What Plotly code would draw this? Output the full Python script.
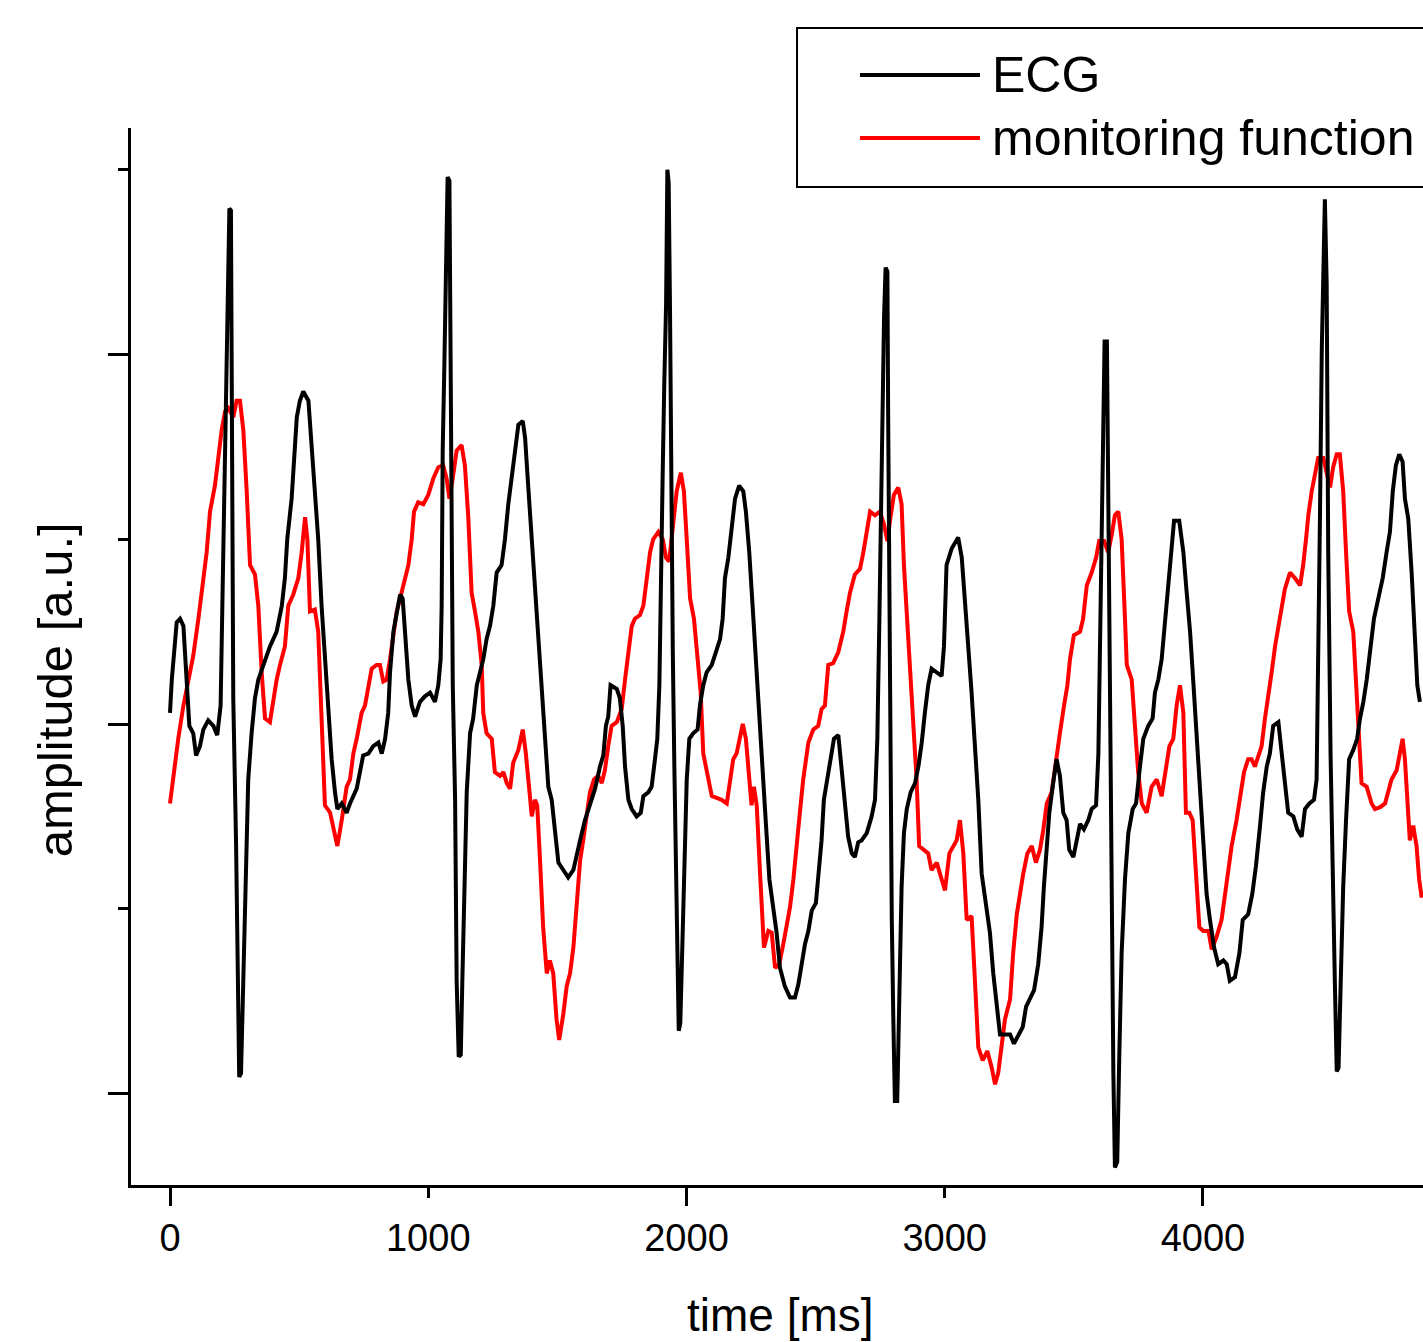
import plotly.graph_objects as go

# ---------------- data ----------------
ecg_t = [0, 7, 26, 39, 52, 65, 75, 90, 101, 116, 129, 148, 168, 183, 196, 206, 217, 223, 230, 236,
         239, 245, 256, 262, 268, 275, 284, 294, 303, 316, 329, 342, 361, 387, 413, 433, 445, 454, 471, 484,
         491, 503, 516, 536, 549, 561, 574, 587, 600, 613, 626, 639, 648, 665, 684, 697, 723, 748, 768, 787,
         807, 820, 833, 845, 852, 865, 878, 891, 901, 910, 923, 936, 949, 968, 987, 1007, 1026, 1039, 1048, 1052,
         1056, 1062, 1069, 1075, 1082, 1084, 1088, 1095, 1104, 1110, 1118, 1126, 1132, 1138, 1149, 1162, 1174, 1188, 1200, 1213,
         1226, 1239, 1252, 1265, 1284, 1297, 1310, 1323, 1336, 1349, 1366, 1375, 1387, 1401, 1413, 1426, 1439, 1452, 1465, 1478,
         1491, 1504, 1523, 1542, 1562, 1575, 1588, 1607, 1626, 1646, 1665, 1678, 1688, 1697, 1706, 1730, 1742, 1753, 1762, 1775,
         1788, 1807, 1823, 1833, 1852, 1865, 1878, 1887, 1895, 1901, 1908, 1914, 1921, 1926, 1931, 1936, 1941, 1947, 1953, 1959,
         1964, 1970, 1976, 1983, 1991, 2001, 2011, 2026, 2043, 2052, 2065, 2078, 2098, 2117, 2130, 2140, 2149, 2162, 2175, 2188,
         2204, 2220, 2230, 2243, 2256, 2269, 2282, 2295, 2308, 2321, 2336, 2349, 2362, 2381, 2401, 2420, 2433, 2446, 2459, 2472,
         2485, 2501, 2510, 2523, 2532, 2545, 2558, 2571, 2588, 2601, 2614, 2626, 2640, 2652, 2665, 2678, 2698, 2717, 2730, 2739,
         2747, 2756, 2765, 2771, 2778, 2781, 2788, 2795, 2801, 2807, 2816, 2824, 2833, 2842, 2853, 2868, 2885, 2898, 2911, 2923,
         2936, 2949, 2969, 2988, 2997, 3007, 3027, 3052, 3066, 3078, 3091, 3104, 3117, 3130, 3143, 3162, 3175, 3188, 3201, 3214,
         3233, 3253, 3268, 3285, 3302, 3315, 3330, 3346, 3362, 3375, 3384, 3395, 3405, 3418, 3433, 3446, 3459, 3472, 3482, 3498,
         3511, 3524, 3539, 3556, 3569, 3586, 3595, 3604, 3612, 3619, 3628, 3633, 3640, 3646, 3653, 3659, 3668, 3676, 3685, 3698,
         3711, 3728, 3741, 3756, 3769, 3788, 3805, 3814, 3827, 3840, 3853, 3866, 3879, 3888, 3908, 3924, 3937, 3950, 3962, 3975,
         3988, 4001, 4014, 4027, 4043, 4059, 4079, 4092, 4104, 4124, 4141, 4154, 4175, 4191, 4205, 4221, 4233, 4247, 4259, 4272,
         4292, 4305, 4317, 4330, 4350, 4365, 4382, 4395, 4412, 4430, 4440, 4446, 4453, 4460, 4466, 4472, 4479, 4485, 4494, 4502,
         4511, 4518, 4525, 4533, 4543, 4554, 4566, 4582, 4597, 4608, 4621, 4634, 4647, 4662, 4679, 4696, 4711, 4724, 4735, 4747,
         4760, 4773, 4782, 4795, 4808, 4821, 4830, 4840]
ecg_v = [0.06, 0.24, 0.55, 0.57, 0.53, 0.21, -0.01, -0.05, -0.17, -0.12, -0.03, 0.02, -0.01, -0.06, 0.10, 0.90, 1.91, 2.45, 2.79, 2.78,
         1.91, 0.14, -0.66, -1.53, -1.91, -1.89, -1.35, -0.74, -0.30, -0.05, 0.14, 0.24, 0.32, 0.42, 0.50, 0.64, 0.79, 1.00, 1.22, 1.48,
         1.66, 1.75, 1.80, 1.75, 1.48, 1.29, 1.00, 0.64, 0.35, 0.06, -0.19, -0.37, -0.46, -0.43, -0.48, -0.43, -0.35, -0.17, -0.16, -0.12,
         -0.10, -0.16, -0.08, 0.06, 0.28, 0.50, 0.61, 0.70, 0.68, 0.50, 0.24, 0.10, 0.04, 0.12, 0.15, 0.17, 0.12, 0.21, 0.35, 0.64,
         1.48, 1.91, 2.38, 2.96, 2.94, 2.38, 1.29, 0.21, -0.41, -1.39, -1.80, -1.79, -1.39, -0.95, -0.37, -0.05, 0.03, 0.21, 0.28, 0.35,
         0.46, 0.53, 0.64, 0.82, 0.86, 1.00, 1.19, 1.33, 1.44, 1.62, 1.64, 1.55, 1.29, 1.00, 0.75, 0.46, 0.17, -0.08, -0.34, -0.41,
         -0.59, -0.75, -0.79, -0.83, -0.79, -0.70, -0.63, -0.52, -0.43, -0.35, -0.23, -0.17, -0.01, 0.04, 0.21, 0.19, 0.14, -0.01, -0.23, -0.41,
         -0.46, -0.50, -0.48, -0.39, -0.37, -0.34, -0.19, -0.08, 0.21, 0.93, 1.37, 1.84, 2.27, 3.00, 2.93, 2.27, 1.29, 0.39, -0.23, -0.81,
         -1.28, -1.66, -1.62, -1.24, -0.70, -0.30, -0.08, -0.05, -0.03, 0.10, 0.21, 0.28, 0.32, 0.41, 0.46, 0.57, 0.79, 0.90, 1.08, 1.22,
         1.29, 1.26, 1.15, 0.93, 0.64, 0.32, 0.03, -0.26, -0.55, -0.84, -0.99, -1.13, -1.32, -1.42, -1.48, -1.48, -1.41, -1.30, -1.19, -1.12,
         -1.01, -0.97, -0.84, -0.63, -0.41, -0.30, -0.19, -0.08, -0.06, -0.26, -0.48, -0.61, -0.70, -0.72, -0.64, -0.63, -0.59, -0.50, -0.41, -0.08,
         0.57, 1.48, 2.20, 2.47, 2.45, 1.66, 0.03, -1.06, -1.60, -2.04, -2.04, -1.42, -0.88, -0.59, -0.46, -0.37, -0.32, -0.23, -0.10, 0.06,
         0.21, 0.30, 0.28, 0.26, 0.42, 0.86, 0.95, 1.01, 0.90, 0.64, 0.42, 0.17, -0.12, -0.41, -0.81, -0.99, -1.13, -1.35, -1.53, -1.68,
         -1.68, -1.68, -1.73, -1.68, -1.64, -1.53, -1.48, -1.44, -1.30, -1.10, -0.88, -0.66, -0.48, -0.34, -0.19, -0.28, -0.48, -0.52, -0.68, -0.72,
         -0.63, -0.54, -0.57, -0.52, -0.46, -0.44, -0.16, 0.57, 1.48, 2.07, 2.07, 1.29, -0.16, -1.24, -1.89, -2.40, -2.37, -1.79, -1.24, -0.84,
         -0.59, -0.46, -0.43, -0.23, -0.08, -0.01, 0.03, 0.17, 0.24, 0.35, 0.57, 0.75, 0.97, 1.10, 1.10, 0.93, 0.71, 0.50, 0.24, -0.05,
         -0.37, -0.66, -0.92, -1.06, -1.21, -1.30, -1.28, -1.30, -1.39, -1.37, -1.24, -1.06, -1.03, -0.92, -0.77, -0.55, -0.37, -0.23, -0.16, -0.01,
         0.01, -0.16, -0.34, -0.48, -0.50, -0.57, -0.61, -0.46, -0.43, -0.41, -0.30, 0.21, 1.12, 2.02, 2.56, 2.84, 2.38, 0.93, -0.16, -0.88,
         -1.42, -1.88, -1.86, -1.42, -0.88, -0.52, -0.19, -0.14, -0.08, 0.03, 0.12, 0.24, 0.39, 0.57, 0.68, 0.79, 0.93, 1.04, 1.26, 1.40,
         1.46, 1.42, 1.22, 1.11, 0.82, 0.50, 0.21, 0.12]

mon_t = [0, 13, 32, 52, 71, 90, 110, 123, 142, 155, 174, 187, 200, 213, 226, 245, 258, 271, 284, 297,
         310, 329, 342, 355, 368, 387, 400, 413, 426, 445, 458, 477, 497, 510, 523, 532, 542, 561, 574, 587,
         600, 620, 635, 648, 665, 684, 697, 710, 723, 742, 755, 768, 781, 800, 813, 826, 839, 852, 865, 878,
         891, 903, 923, 936, 945, 961, 981, 1000, 1020, 1039, 1058, 1071, 1082, 1095, 1110, 1129, 1142, 1155, 1168, 1181,
         1194, 1207, 1213, 1226, 1246, 1258, 1278, 1291, 1304, 1317, 1329, 1349, 1366, 1378, 1391, 1401, 1413, 1422, 1433, 1445,
         1459, 1471, 1484, 1497, 1507, 1523, 1536, 1549, 1562, 1575, 1588, 1600, 1614, 1626, 1642, 1658, 1672, 1684, 1697, 1710,
         1730, 1749, 1762, 1775, 1788, 1800, 1820, 1833, 1846, 1859, 1871, 1891, 1908, 1921, 1933, 1947, 1962, 1978, 1990, 2001,
         2014, 2029, 2042, 2055, 2065, 2078, 2098, 2117, 2136, 2156, 2168, 2181, 2194, 2207, 2218, 2230, 2243, 2252, 2261, 2272,
         2285, 2300, 2317, 2330, 2343, 2359, 2375, 2394, 2401, 2414, 2427, 2439, 2452, 2472, 2491, 2510, 2523, 2536, 2549, 2568,
         2588, 2607, 2620, 2633, 2652, 2672, 2685, 2698, 2711, 2730, 2749, 2765, 2778, 2788, 2803, 2820, 2833, 2842, 2855, 2868,
         2881, 2891, 2901, 2917, 2936, 2949, 2969, 2988, 3001, 3018, 3033, 3046, 3059, 3072, 3085, 3104, 3117, 3130, 3147, 3165,
         3182, 3195, 3207, 3220, 3233, 3253, 3265, 3279, 3291, 3304, 3320, 3337, 3353, 3369, 3382, 3395, 3414, 3427, 3446, 3462,
         3475, 3485, 3500, 3524, 3536, 3550, 3569, 3586, 3598, 3617, 3633, 3646, 3659, 3672, 3685, 3698, 3705, 3724, 3737, 3749,
         3763, 3782, 3801, 3821, 3840, 3853, 3870, 3885, 3898, 3911, 3924, 3934, 3947, 3960, 3973, 3986, 4001, 4021, 4034, 4053,
         4072, 4092, 4111, 4130, 4143, 4159, 4175, 4188, 4201, 4214, 4227, 4240, 4253, 4266, 4279, 4292, 4305, 4317, 4337, 4356,
         4376, 4388, 4399, 4408, 4421, 4434, 4446, 4466, 4479, 4492, 4504, 4518, 4530, 4543, 4554, 4566, 4582, 4592, 4601, 4614,
         4634, 4653, 4666, 4686, 4705, 4717, 4730, 4750, 4763, 4773, 4782, 4791, 4801, 4814, 4827, 4837, 4847]
mon_v = [-0.43, -0.27, -0.08, 0.10, 0.24, 0.37, 0.57, 0.71, 0.93, 1.15, 1.29, 1.44, 1.59, 1.69, 1.71, 1.66, 1.75, 1.75, 1.59, 1.26,
         0.86, 0.81, 0.64, 0.28, 0.03, 0.01, 0.14, 0.24, 0.32, 0.42, 0.64, 0.70, 0.79, 0.93, 1.12, 1.00, 0.61, 0.62, 0.50, -0.01,
         -0.44, -0.48, -0.57, -0.66, -0.52, -0.34, -0.30, -0.16, -0.08, 0.06, 0.10, 0.21, 0.30, 0.32, 0.32, 0.23, 0.24, 0.35, 0.50, 0.61,
         0.68, 0.75, 0.86, 1.00, 1.15, 1.20, 1.19, 1.24, 1.33, 1.39, 1.40, 1.33, 1.22, 1.33, 1.48, 1.51, 1.40, 1.12, 0.71, 0.61,
         0.50, 0.32, 0.06, -0.05, -0.08, -0.26, -0.28, -0.26, -0.32, -0.35, -0.21, -0.14, -0.03, -0.16, -0.34, -0.50, -0.41, -0.44, -0.74, -1.10,
         -1.35, -1.28, -1.35, -1.60, -1.71, -1.57, -1.42, -1.35, -1.21, -0.99, -0.74, -0.63, -0.48, -0.37, -0.30, -0.28, -0.32, -0.25, -0.12, -0.01,
         0.01, 0.08, 0.24, 0.39, 0.53, 0.57, 0.59, 0.64, 0.79, 0.93, 1.00, 1.04, 1.00, 0.90, 0.88, 1.08, 1.26, 1.36, 1.26, 1.00,
         0.68, 0.57, 0.39, 0.17, -0.16, -0.26, -0.39, -0.40, -0.41, -0.43, -0.32, -0.19, -0.16, -0.08, 0.00, -0.08, -0.30, -0.44, -0.34, -0.44,
         -0.81, -1.21, -1.12, -1.13, -1.32, -1.30, -1.19, -1.03, -0.99, -0.84, -0.63, -0.48, -0.30, -0.10, -0.03, -0.01, 0.08, 0.10, 0.32, 0.33,
         0.39, 0.50, 0.61, 0.71, 0.81, 0.84, 0.93, 1.04, 1.15, 1.13, 1.15, 1.08, 0.99, 1.10, 1.24, 1.28, 1.19, 0.86, 0.57, 0.28,
         -0.01, -0.30, -0.66, -0.68, -0.70, -0.79, -0.75, -0.84, -0.90, -0.70, -0.66, -0.63, -0.52, -0.70, -1.06, -1.04, -1.39, -1.75, -1.82, -1.77,
         -1.86, -1.95, -1.89, -1.75, -1.60, -1.49, -1.24, -1.03, -0.92, -0.81, -0.70, -0.66, -0.75, -0.68, -0.57, -0.43, -0.37, -0.23, -0.05, 0.10,
         0.21, 0.35, 0.48, 0.50, 0.57, 0.75, 0.82, 0.90, 0.99, 0.99, 0.93, 1.02, 1.13, 1.15, 1.00, 0.57, 0.32, 0.24, -0.05, -0.26,
         -0.43, -0.48, -0.34, -0.30, -0.39, -0.26, -0.12, -0.08, 0.10, 0.21, 0.06, -0.48, -0.48, -0.52, -0.81, -1.10, -1.12, -1.12, -1.22, -1.15,
         -1.06, -0.85, -0.66, -0.52, -0.40, -0.26, -0.19, -0.19, -0.23, -0.17, -0.12, 0.03, 0.14, 0.28, 0.42, 0.53, 0.64, 0.73, 0.82, 0.79,
         0.75, 0.86, 1.00, 1.13, 1.26, 1.37, 1.44, 1.44, 1.37, 1.28, 1.39, 1.46, 1.46, 1.26, 0.93, 0.61, 0.50, 0.21, -0.05, -0.32,
         -0.34, -0.43, -0.46, -0.45, -0.43, -0.37, -0.30, -0.25, -0.14, -0.08, -0.19, -0.37, -0.63, -0.55, -0.66, -0.84, -0.94]

x_tick_vals = [0, 1000, 2000, 3000, 4000]
x_tick_text = ["0", "1000", "2000", "3000", "4000"]
x_major_vals = [0, 2000, 4000]
series_names = ["ECG", "monitoring function"]
series_colors = ["#000000", "#ff0000"]

# ---------------- figure ----------------
FONT = "Liberation Sans, Arial, Helvetica, sans-serif"
LINE_W = 4

fig = go.Figure()
fig.add_trace(go.Scatter(x=mon_t, y=mon_v, mode="lines", name=series_names[1],
                         line=dict(color=series_colors[1], width=LINE_W), xaxis="x", yaxis="y"))
fig.add_trace(go.Scatter(x=ecg_t, y=ecg_v, mode="lines", name=series_names[0],
                         line=dict(color=series_colors[0], width=LINE_W), xaxis="x2", yaxis="y"))

x_range = [-151, 4852]
y_range = [-2.495, 3.226]

fig.update_layout(
    width=1423, height=1342,
    margin=dict(l=131, r=0, t=128, b=157),
    paper_bgcolor="white", plot_bgcolor="white",
    showlegend=False,
    font=dict(family=FONT, color="black"),
    xaxis=dict(
        range=x_range, showline=True, linecolor="black", linewidth=3,
        ticks="outside", tickmode="array", tickvals=x_tick_vals, ticktext=x_tick_text,
        ticklen=10, tickwidth=3, tickcolor="black",
        tickfont=dict(size=38, family=FONT, color="black"),
        ticklabelstandoff=7,
        showgrid=False, zeroline=False,
    ),
    xaxis2=dict(
        overlaying="x", matches="x", anchor="y", side="bottom",
        showline=False, ticks="outside", tickmode="array", tickvals=x_major_vals,
        ticklen=20, tickwidth=3, tickcolor="black", showticklabels=False,
        showgrid=False, zeroline=False,
    ),
    yaxis=dict(
        range=y_range, showline=True, linecolor="black", linewidth=3,
        ticks="outside", tick0=0, dtick=2, ticklen=20, tickwidth=3, tickcolor="black",
        showticklabels=False, showgrid=False, zeroline=False,
        minor=dict(ticks="outside", tick0=0, dtick=1, ticklen=10, tickwidth=3, tickcolor="black"),
    ),
)

# axis titles
fig.add_annotation(text="time [ms]", xref="paper", yref="paper", x=0.503, y=-0.1230,
                   xanchor="center", yanchor="middle", showarrow=False,
                   font=dict(size=46, family=FONT, color="black"))
fig.add_annotation(text="amplitude [a.u.]", xref="paper", yref="paper", x=-0.0588, y=0.468,
                   xanchor="center", yanchor="middle", textangle=-90, showarrow=False,
                   font=dict(size=49, family=FONT, color="black"))

# legend (long line samples as in the reference)
fig.add_shape(type="rect", xref="paper", yref="paper", x0=0.5155, x1=1.03, y0=0.9442, y1=1.0946,
              line=dict(color="black", width=2), fillcolor="white", layer="above")
leg_y = [1.0501, 0.9905]
for name, color, yy in zip(series_names, series_colors, leg_y):
    fig.add_shape(type="line", xref="paper", yref="paper", x0=0.5642, x1=0.6571, y0=yy, y1=yy,
                  line=dict(color=color, width=4), layer="above")
    fig.add_annotation(text=name, xref="paper", yref="paper", x=0.6649, y=yy,
                       xanchor="left", yanchor="middle", showarrow=False,
                       font=dict(size=50, family=FONT, color="black"))

# remove the default page margin so the figure fills the window exactly
fig.write_html("out.html",
               config={"displayModeBar": False},
               post_script="document.body.style.margin='0';document.body.style.overflow='hidden';")
